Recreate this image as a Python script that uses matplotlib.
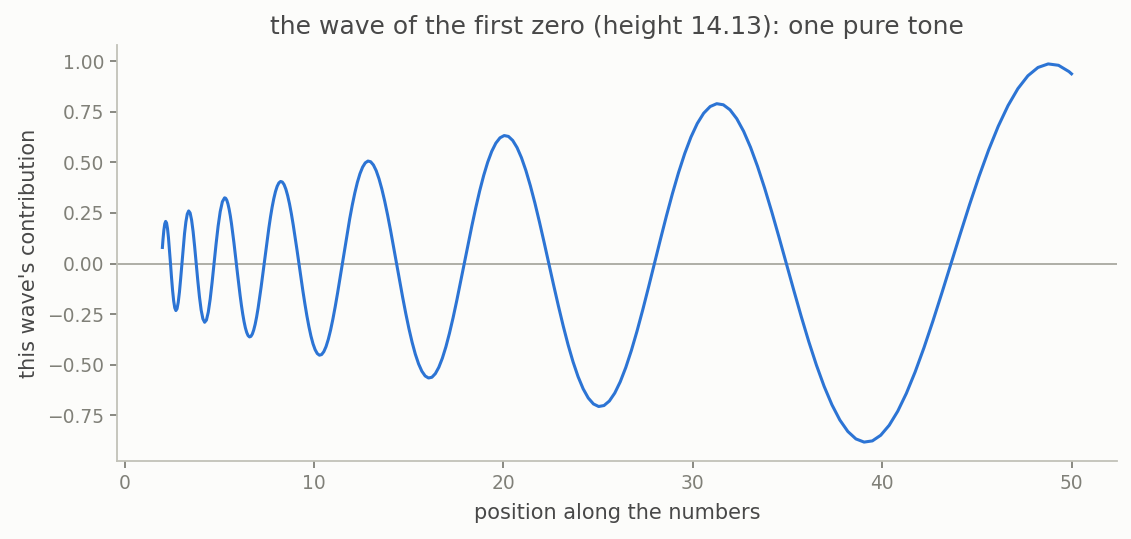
import matplotlib
matplotlib.use("Agg")
import matplotlib.pyplot as plt

# values, one row per half swing of the wave
position = [
    2.000, 2.031, 2.077, 2.124,
    2.171, 2.220, 2.270, 2.321, 2.373, 2.427, 2.481, 2.537, 2.594, 2.652,
    2.712, 2.773, 2.835, 2.899, 2.964, 3.031, 3.099, 3.168, 3.240, 3.313,
    3.387, 3.463, 3.541, 3.621, 3.702, 3.785, 3.870, 3.957, 4.046, 4.137,
    4.230, 4.325, 4.422, 4.522, 4.623, 4.727, 4.833, 4.942, 5.053, 5.167,
    5.283, 5.342, 5.402, 5.462, 5.523, 5.585, 5.647, 5.710, 5.774, 5.839,
    5.904, 5.970, 6.036, 6.104, 6.172, 6.241, 6.311, 6.381, 6.453, 6.525,
    6.598, 6.671, 6.746, 6.821, 6.898, 6.975, 7.053, 7.131, 7.211, 7.292,
    7.373, 7.456, 7.539, 7.623, 7.708, 7.794, 7.882, 7.970, 8.059, 8.149,
    8.240, 8.332, 8.425, 8.519, 8.614, 8.711, 8.808, 8.906, 9.006, 9.107,
    9.208, 9.311, 9.415, 9.521, 9.627, 9.735, 9.843, 9.953, 10.065, 10.177,
    10.291, 10.406, 10.522, 10.640, 10.759, 10.879, 11.000, 11.123, 11.248, 11.373,
    11.500, 11.629, 11.759, 11.890, 12.023, 12.158, 12.293, 12.431, 12.570, 12.710,
    12.852, 12.996, 13.141, 13.288, 13.436, 13.586, 13.738, 13.892, 14.047, 14.204,
    14.363, 14.524, 14.686, 14.850, 15.016, 15.184, 15.353, 15.525, 15.698, 15.873,
    16.051, 16.230, 16.412, 16.595, 16.781, 16.969, 17.158, 17.350, 17.543, 17.739,
    17.938, 18.139, 18.341, 18.546, 18.753, 18.963, 19.174, 19.388, 19.605, 19.824,
    20.046, 20.270, 20.496, 20.725, 20.957, 21.191, 21.428, 21.668, 21.910, 22.155,
    22.402, 22.652, 22.906, 23.162, 23.420, 23.682, 23.947, 24.215, 24.485, 24.759,
    25.035, 25.315, 25.598, 25.884, 26.173, 26.466, 26.762, 27.061, 27.363, 27.669,
    27.978, 28.291, 28.607, 28.927, 29.250, 29.577, 29.907, 30.241, 30.579, 30.921,
    31.267, 31.616, 31.969, 32.326, 32.688, 33.053, 33.422, 33.796, 34.174, 34.556,
    34.942, 35.333, 35.727, 36.126, 36.530, 36.938, 37.351, 37.768, 38.190, 38.617,
    39.049, 39.485, 39.926, 40.372, 40.824, 41.280, 41.741, 42.208, 42.679, 43.156,
    43.639, 44.127, 44.619, 45.118, 45.622, 46.132, 46.648, 47.169, 47.696, 48.229,
    48.768, 49.313, 49.864, 50.000,
]
contribution = [
    0.0794, 0.1185, 0.1649, 0.1960,
    0.2084, 0.2004, 0.1724, 0.1266, 0.0673, 0.0000, -0.0688, -0.1324, -0.1843, -0.2190,
    -0.2329, -0.2239, -0.1926, -0.1415, -0.0752, 0.0000, 0.0769, 0.1480, 0.2059, 0.2448,
    0.2602, 0.2503, 0.2153, 0.1582, 0.0841, 0.0000, -0.0860, -0.1653, -0.2301, -0.2735,
    -0.2908, -0.2797, -0.2406, -0.1767, -0.0940, 0.0000, 0.0961, 0.1848, 0.2572, 0.3057,
    0.3250, 0.3228, 0.3126, 0.2945, 0.2688, 0.2363, 0.1975, 0.1534, 0.1050, 0.0535,
    0.0000, -0.0540, -0.1074, -0.1586, -0.2065, -0.2498, -0.2874, -0.3183, -0.3416, -0.3568,
    -0.3632, -0.3607, -0.3493, -0.3291, -0.3005, -0.2641, -0.2207, -0.1714, -0.1173, -0.0597,
    0.0000, 0.0604, 0.1200, 0.1772, 0.2308, 0.2792, 0.3212, 0.3557, 0.3818, 0.3987,
    0.4059, 0.4031, 0.3904, 0.3677, 0.3358, 0.2951, 0.2467, 0.1916, 0.1311, 0.0668,
    0.0000, -0.0675, -0.1341, -0.1981, -0.2579, -0.3120, -0.3589, -0.3975, -0.4266, -0.4455,
    -0.4536, -0.4505, -0.4362, -0.4110, -0.3752, -0.3298, -0.2757, -0.2141, -0.1465, -0.0746,
    0.0000, 0.0754, 0.1498, 0.2214, 0.2882, 0.3486, 0.4011, 0.4442, 0.4768, 0.4979,
    0.5069, 0.5035, 0.4875, 0.4593, 0.4193, 0.3686, 0.3081, 0.2393, 0.1638, 0.0834,
    0.0000, -0.0843, -0.1675, -0.2474, -0.3221, -0.3896, -0.4482, -0.4964, -0.5328, -0.5564,
    -0.5665, -0.5627, -0.5448, -0.5133, -0.4686, -0.4119, -0.3443, -0.2674, -0.1830, -0.0932,
    0.0000, 0.0942, 0.1871, 0.2765, 0.3599, 0.4354, 0.5009, 0.5548, 0.5955, 0.6218,
    0.6331, 0.6288, 0.6088, 0.5736, 0.5237, 0.4603, 0.3847, 0.2988, 0.2045, 0.1041,
    0.0000, -0.1053, -0.2091, -0.3089, -0.4022, -0.4866, -0.5598, -0.6200, -0.6654, -0.6949,
    -0.7075, -0.7027, -0.6804, -0.6410, -0.5853, -0.5144, -0.4300, -0.3339, -0.2286, -0.1164,
    0.0000, 0.1177, 0.2337, 0.3453, 0.4495, 0.5438, 0.6256, 0.6928, 0.7437, 0.7766,
    0.7907, 0.7853, 0.7604, 0.7163, 0.6540, 0.5748, 0.4805, 0.3732, 0.2554, 0.1300,
    0.0000, -0.1315, -0.2612, -0.3858, -0.5023, -0.6077, -0.6991, -0.7743, -0.8311, -0.8679,
    -0.8836, -0.8776, -0.8497, -0.8005, -0.7309, -0.6424, -0.5370, -0.4171, -0.2855, -0.1453,
    0.0000, 0.1469, 0.2919, 0.4312, 0.5614, 0.6791, 0.7813, 0.8653, 0.9288, 0.9699,
    0.9875, 0.9807, 0.9496, 0.9384,
]

x_ticks = [0, 10, 20, 30, 40, 50]
y_ticks = [-0.75, -0.50, -0.25, 0.00, 0.25, 0.50, 0.75, 1.00]

bg = "#fcfcfa"
fig = plt.figure(figsize=(11.31, 5.39), dpi=100, facecolor=bg)
ax = fig.add_axes([0.1034, 0.1447, 0.8842, 0.7718], facecolor=bg)

ax.axhline(0, color="#999990", linewidth=1.1, zorder=1)
ax.plot(position, contribution, color="#2c74d4", linewidth=2.2, zorder=2)

ax.set_xticks(x_ticks)
ax.set_yticks(y_ticks)
ax.set_yticklabels([f"{v:.2f}".replace("-", "\u2212") for v in y_ticks])

for side in ["top", "right"]:
    ax.spines[side].set_visible(False)
for side in ["left", "bottom"]:
    ax.spines[side].set_color("#c2c2b8")
    ax.spines[side].set_linewidth(1.3)
ax.tick_params(colors="#808078", labelsize=13.4, length=4.8, width=1.3, pad=4.5)

ax.set_title("the wave of the first zero (height 14.13): one pure tone",
             fontsize=18, color="#484848", pad=8)
ax.set_xlabel("position along the numbers", fontsize=15, color="#484848", labelpad=7.5)
ax.set_ylabel("this wave's contribution", fontsize=15, color="#484848", labelpad=6)

fig.savefig("out.png", dpi=100, facecolor=bg)
